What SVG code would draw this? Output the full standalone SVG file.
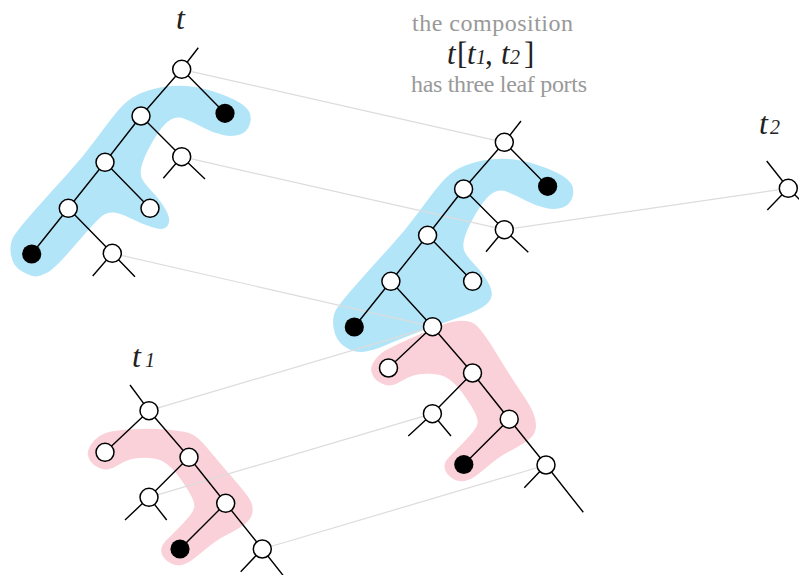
<svg xmlns="http://www.w3.org/2000/svg" xmlns:xlink="http://www.w3.org/1999/xlink" width="799" height="575" viewBox="0 0 799 575">
<style>
.blue{fill:#b3e5f9}
.pink{fill:#fad1d9}
.c{stroke:#dcdcdc;stroke-width:1.2;fill:none}
.e{stroke:#000;stroke-width:1.4;fill:none;stroke-linecap:butt}
.n{fill:#fff;stroke:#000;stroke-width:1.5}
.b{fill:#000}
.g{font-family:"Liberation Serif",serif;font-size:24px;fill:#999}
.m{font-family:"Liberation Serif",serif;fill:#222}
.i{font-style:italic}
</style>
<rect width="799" height="575" fill="#fff"/>
<g id="blobs">
<path class="blue" d="M 23,272 Q 13,267 11,255 Q 9,243 14.5,235 Q 20,227 35,210 Q 50,193 66.5,175 Q 83,157 96.5,138.5 Q 110,120 118.5,110 Q 127,100 137,95 Q 147,90 160,87.5 Q 173,85 186.5,86 Q 200,87 215,92 Q 230,97 238.5,102 Q 247,107 249.5,112.5 Q 252,118 249.5,125 Q 247,132 240,134.5 Q 233,137 223,135 Q 213,133 203,127.5 Q 193,122 185,119 Q 177,116 171,119.5 Q 165,123 159,131.5 Q 153,140 148,150 Q 143,160 141.5,166.5 Q 140,173 141.5,177.5 Q 143,182 151.5,191 Q 160,200 165,208.5 Q 170,217 169,222 Q 168,227 164,228.5 Q 160,230 150,226.5 Q 140,223 130,218 Q 120,213 113.5,212.5 Q 107,212 102,216 Q 97,220 87,231.5 Q 77,243 65,256.5 Q 53,270 46.5,273 Q 40,276 36.5,276.5 Q 33,277 23,272 Z"/>
<path class="pink" d="M 92,443.3 Q 96.7,436.7 105,433.3 Q 113.3,430 133.3,429.2 Q 153.3,428.3 166.7,429.5 Q 180,430.7 188.3,432.8 Q 196.7,435 208.3,449.2 Q 220,463.3 231.7,476.7 Q 243.3,490 248,496.7 Q 252.7,503.3 252.7,509.2 Q 252.7,515 249.7,519.2 Q 246.7,523.3 240,527.5 Q 233.3,531.7 225,535.8 Q 216.7,540 206.7,548.3 Q 196.7,556.7 191.7,560.3 Q 186.7,564 181.7,565 Q 176.7,566 171.7,563.8 Q 166.7,561.7 163.7,557.5 Q 160.7,553.3 161.2,549.2 Q 161.7,545 165.8,540.8 Q 170,536.7 176.7,530 Q 183.3,523.3 188.3,517.5 Q 193.3,511.7 194.2,507.5 Q 195,503.3 191.7,496.7 Q 188.3,490 182.5,481.7 Q 176.7,473.3 171.7,468.3 Q 166.7,463.3 161.7,460.8 Q 156.7,458.3 146.7,457.8 Q 136.7,457.3 130,459.5 Q 123.3,461.7 118.3,465 Q 113.3,468.3 108.3,469.2 Q 103.3,470 98.3,467.5 Q 93.3,465 90.8,461.7 Q 88.3,458.3 87.8,454.2 Q 87.3,450 92,443.3 Z"/>
<path class="pink" d="M 375.3,359.4 Q 380,352.7 390,347.9 Q 400,343 412.5,337.5 Q 425,332 436.5,327 Q 448,322 458,321 Q 468,320 474.5,324 Q 481,328 496.5,353.5 Q 512,379 521,392 Q 530,405 533,412.2 Q 536,419.3 536,425.2 Q 536,431 533,435.2 Q 530,439.3 523.3,443.5 Q 516.6,447.7 508.3,451.9 Q 500,456 490,464.4 Q 480,472.7 475,476.4 Q 470,480 465,481 Q 460,482 455,479.9 Q 450,477.7 447,473.5 Q 444,469.3 444.5,465.2 Q 445,461 449.2,456.9 Q 453.3,452.7 460,446 Q 466.6,439.3 471.6,433.5 Q 476.6,427.7 477.5,423.5 Q 478.3,419.3 475,412.7 Q 471.6,406 465.8,397.7 Q 460,389.3 455,384.3 Q 450,379.3 445,376.8 Q 440,374.3 430,373.8 Q 420,373.3 413.3,375.5 Q 406.6,377.7 401.6,381 Q 396.6,384.3 391.6,385.2 Q 386.6,386 381.6,383.5 Q 376.6,381 374.1,377.7 Q 371.6,374.3 371.1,370.2 Q 370.6,366 375.3,359.4 Z"/>
<path class="blue" d="M 333.6,328 Q 331.6,316 337.1,308 Q 342.6,300 357.6,283 Q 372.6,266 389.1,248 Q 405.6,230 419.1,211.5 Q 432.6,193 441.1,183 Q 449.6,173 459.6,168 Q 469.6,163 482.6,160.5 Q 495.6,158 509.1,159 Q 522.6,160 537.6,165 Q 552.6,170 561.1,175 Q 569.6,180 572.1,185.5 Q 574.6,191 572.1,198 Q 569.6,205 562.6,207.5 Q 555.6,210 545.6,208 Q 535.6,206 525.6,200.5 Q 515.6,195 507.6,192 Q 499.6,189 493.6,192.5 Q 487.6,196 481.6,204.5 Q 475.6,213 470.6,223 Q 465.6,233 464.1,239.5 Q 462.6,246 464.1,250.5 Q 465.6,255 474.1,264 Q 482.6,273 487.6,281.5 Q 492.6,290 491.6,296 Q 490.6,302 482.8,307 Q 475,312 457.5,318 Q 440,324 420,331.5 Q 400,339 385,345.5 Q 370,352 361,352 Q 352,352 343.8,346 Q 335.6,340 333.6,328 Z"/>
</g>
<g id="connectors">
<line class="c" x1="181.7" y1="69.3" x2="504.3" y2="142.3"/>
<line class="c" x1="181.7" y1="156.7" x2="504.3" y2="229.7"/>
<line class="c" x1="112.3" y1="253.3" x2="432.5" y2="326.7"/>
<line class="c" x1="788.3" y1="188.3" x2="504.3" y2="229.7"/>
<line class="c" x1="149" y1="410.7" x2="432.5" y2="326.7"/>
<line class="c" x1="149" y1="497.3" x2="432.4" y2="413.7"/>
<line class="c" x1="262.3" y1="549" x2="546" y2="465"/>
</g>
<g id="edges">
<path class="e" d="M181.7,69.3 L198.3,47.7 M181.7,69.3 L225,113.3 M181.7,69.3 L141,116 L181.7,156.7 M163.3,178.3 L181.7,156.7 L205,179 M141,116 L105,162.3 L150,208.3 M105,162.3 L68.3,208.3 L31.7,254 M68.3,208.3 L112.3,253.3 M92.7,276 L112.3,253.3 L135,276.7"/>
<path class="e" d="M504.3,142.3 L521,121 M504.3,142.3 L547.6,186.3 M504.3,142.3 L463.6,189 L504.3,229.7 M486,251.7 L504.3,229.7 L528.3,252.3 M463.6,189 L427.6,235.3 L472.6,281.3 M427.6,235.3 L390.9,281.3 L354.3,327 M390.9,281.3 L432.5,326.7 L388.5,368 M432.5,326.7 L472.5,373 L432.4,413.7 M408.3,436 L432.4,413.7 L451,436 M472.5,373 L509.2,419.2 L463.8,464.5 M509.2,419.2 L546,465 L583.3,512.3 M546,465 L524.3,487.7"/>
<path class="e" d="M149,410.7 L130,385 M149,410.7 L105,452.3 M149,410.7 L189,457.3 L149,497.3 M125,520 L149,497.3 L166.7,520 M189,457.3 L225.7,503.3 L180,549 M225.7,503.3 L262.3,549 L299.6,596.3 M262.3,549 L240.7,571.7"/>
<path class="e" d="M788.3,188.3 L766.7,161 M788.3,188.3 L767.3,210 M788.3,188.3 L810,210"/>
</g>
<g id="tree-t">
<g id="t-root"><circle class="n" cx="181.7" cy="69.3" r="9"/></g>
<g id="t-leaf1"><circle class="b" cx="225" cy="113.3" r="9.6"/></g>
<g id="t-n2"><circle class="n" cx="141" cy="116" r="9"/></g>
<g id="t-port2"><circle class="n" cx="181.7" cy="156.7" r="9"/></g>
<g id="t-n3"><circle class="n" cx="105" cy="162.3" r="9"/></g>
<g id="t-leafw"><circle class="n" cx="150" cy="208.3" r="9"/></g>
<g id="t-n4"><circle class="n" cx="68.3" cy="208.3" r="9"/></g>
<g id="t-leaf2"><circle class="b" cx="31.7" cy="254" r="9.6"/></g>
<g id="t-port1"><circle class="n" cx="112.3" cy="253.3" r="9"/></g>
</g>
<g id="tree-comp">
<g id="c-root"><circle class="n" cx="504.3" cy="142.3" r="9"/></g>
<g id="c-leaf1"><circle class="b" cx="547.6" cy="186.3" r="9.6"/></g>
<g id="c-n2"><circle class="n" cx="463.6" cy="189" r="9"/></g>
<g id="c-t2"><circle class="n" cx="504.3" cy="229.7" r="9"/></g>
<g id="c-n3"><circle class="n" cx="427.6" cy="235.3" r="9"/></g>
<g id="c-leafw"><circle class="n" cx="472.6" cy="281.3" r="9"/></g>
<g id="c-n4"><circle class="n" cx="390.9" cy="281.3" r="9"/></g>
<g id="c-leaf2"><circle class="b" cx="354.3" cy="327" r="9.6"/></g>
<g id="c-t1root"><circle class="n" cx="432.5" cy="326.7" r="9"/></g>
<g id="c-t1left"><circle class="n" cx="388.5" cy="368" r="9"/></g>
<g id="c-t1n2"><circle class="n" cx="472.5" cy="373" r="9"/></g>
<g id="c-t1port"><circle class="n" cx="432.4" cy="413.7" r="9"/></g>
<g id="c-t1n3"><circle class="n" cx="509.2" cy="419.2" r="9"/></g>
<g id="c-t1leaf"><circle class="b" cx="463.8" cy="464.5" r="9.6"/></g>
<g id="c-t1port2"><circle class="n" cx="546" cy="465" r="9"/></g>
</g>
<g id="tree-t1">
<g id="t1-root"><circle class="n" cx="149" cy="410.7" r="9"/></g>
<g id="t1-left"><circle class="n" cx="105" cy="452.3" r="9"/></g>
<g id="t1-n2"><circle class="n" cx="189" cy="457.3" r="9"/></g>
<g id="t1-port1"><circle class="n" cx="149" cy="497.3" r="9"/></g>
<g id="t1-n3"><circle class="n" cx="225.7" cy="503.3" r="9"/></g>
<g id="t1-leaf"><circle class="b" cx="180" cy="549" r="9.6"/></g>
<g id="t1-port2"><circle class="n" cx="262.3" cy="549" r="9"/></g>
</g>
<g id="tree-t2">
<g id="t2-root"><circle class="n" cx="788.3" cy="188.3" r="9"/></g>
</g>
<g id="labels">
<text class="m i" x="176" y="29" font-size="32">t</text>
<text class="m" y="367" font-size="32"><tspan class="i" x="132">t</tspan><tspan class="i" x="145" font-size="20">1</tspan></text>
<text class="m" y="134" font-size="32"><tspan class="i" x="759">t</tspan><tspan class="i" x="770" font-size="20">2</tspan></text>
<text class="g" x="412" y="31" textLength="161" lengthAdjust="spacing">the composition</text>
<text class="m" y="64" font-size="31"><tspan class="i" x="447">t</tspan><tspan x="457">[</tspan><tspan class="i" x="467">t</tspan><tspan class="i" x="476" font-size="20">1</tspan><tspan x="485">,</tspan><tspan class="i" x="501">t</tspan><tspan class="i" x="510" font-size="20">2</tspan><tspan x="524">]</tspan></text>
<text class="g" x="411" y="92" textLength="176" lengthAdjust="spacing">has three leaf ports</text>
</g>
</svg>
